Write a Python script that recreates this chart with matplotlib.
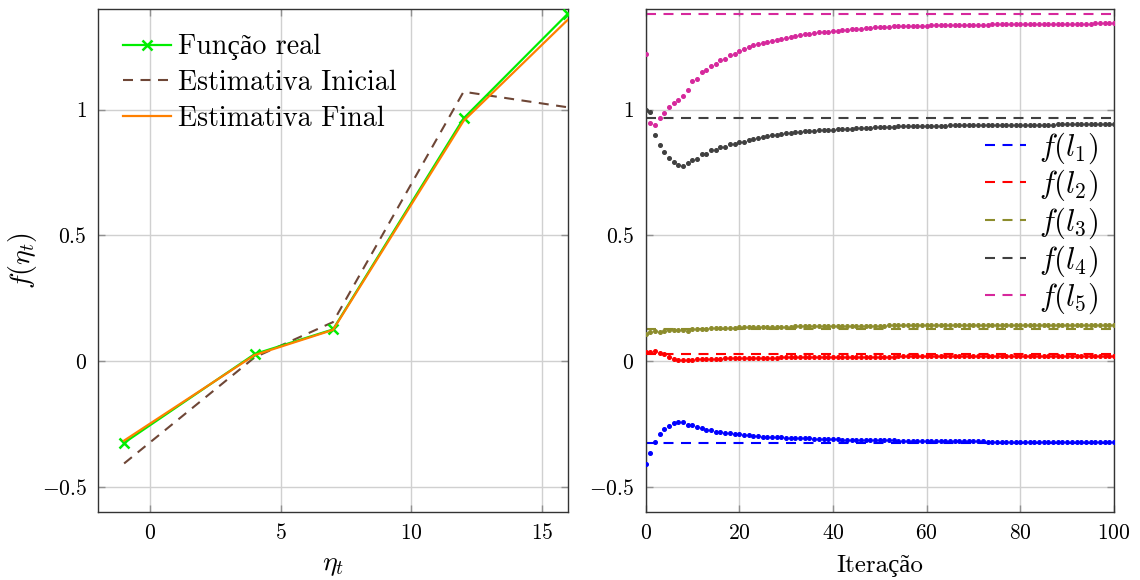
import matplotlib
matplotlib.use("Agg")
import matplotlib.pyplot as plt
from matplotlib.ticker import FixedLocator, FuncFormatter

plt.rcParams['mathtext.fontset'] = 'cm'
plt.rcParams['font.family'] = ['cmr10', 'Liberation Serif']
plt.rcParams['axes.unicode_minus'] = False

# ---------------- data: left panel ----------------
eta = [-1, 4, 7, 12, 16]
f_real = [-0.325, 0.028, 0.126, 0.965, 1.382]
f_inicial = [-0.407, 0.015, 0.155, 1.071, 1.009]
f_final = [-0.316, 0.024, 0.124, 0.955, 1.358]

# ---------------- data: right panel ----------------
iters = list(range(101))
ref_vals = [-0.325, 0.028, 0.127, 0.965, 1.382]
labels_r = [r'$f(l_1)$', r'$f(l_2)$', r'$f(l_3)$', r'$f(l_4)$', r'$f(l_5)$']

l1 = [-0.408, -0.367, -0.321, -0.288, -0.268, -0.257, -0.248, -0.243, -0.243, -0.254,
      -0.256, -0.264, -0.265, -0.272, -0.274, -0.280, -0.281, -0.285, -0.286, -0.289,
      -0.290, -0.293, -0.294, -0.297, -0.297, -0.300, -0.300, -0.301, -0.302, -0.303,
      -0.305, -0.305, -0.306, -0.306, -0.307, -0.307, -0.308, -0.308, -0.309, -0.310,
      -0.311, -0.311, -0.312, -0.312, -0.312, -0.313, -0.313, -0.313, -0.314, -0.314,
      -0.314, -0.315, -0.315, -0.315, -0.316, -0.316, -0.316, -0.316, -0.317, -0.317,
      -0.317, -0.317, -0.318, -0.318, -0.318, -0.318, -0.318, -0.319, -0.319, -0.319,
      -0.319, -0.319, -0.319, -0.320, -0.320, -0.320, -0.320, -0.320, -0.320, -0.320,
      -0.320, -0.320, -0.321, -0.321, -0.321, -0.321, -0.321, -0.321, -0.321, -0.321,
      -0.321, -0.321, -0.321, -0.321, -0.321, -0.321, -0.321, -0.321, -0.321, -0.321,
      -0.321]
l2 = [0.036, 0.037, 0.042, 0.033, 0.027, 0.017, 0.009, 0.005, 0.003, 0.004,
      0.003, 0.007, 0.008, 0.008, 0.009, 0.010, 0.010, 0.011, 0.011, 0.011,
      0.012, 0.012, 0.012, 0.013, 0.013, 0.013, 0.014, 0.014, 0.014, 0.015,
      0.015, 0.015, 0.015, 0.016, 0.016, 0.016, 0.016, 0.016, 0.017, 0.017,
      0.017, 0.017, 0.017, 0.017, 0.018, 0.018, 0.018, 0.018, 0.018, 0.018,
      0.018, 0.018, 0.018, 0.018, 0.019, 0.019, 0.019, 0.019, 0.019, 0.019,
      0.019, 0.019, 0.019, 0.019, 0.019, 0.019, 0.019, 0.019, 0.019, 0.019,
      0.019, 0.019, 0.019, 0.019, 0.019, 0.019, 0.019, 0.019, 0.019, 0.019,
      0.019, 0.019, 0.019, 0.019, 0.019, 0.019, 0.019, 0.019, 0.019, 0.019,
      0.019, 0.019, 0.019, 0.019, 0.019, 0.019, 0.019, 0.019, 0.019, 0.019,
      0.019]
l3 = [0.106, 0.117, 0.118, 0.117, 0.121, 0.123, 0.125, 0.125, 0.125, 0.121,
      0.128, 0.128, 0.129, 0.129, 0.130, 0.130, 0.131, 0.131, 0.132, 0.133,
      0.134, 0.134, 0.134, 0.135, 0.135, 0.135, 0.136, 0.136, 0.136, 0.137,
      0.137, 0.137, 0.138, 0.138, 0.138, 0.138, 0.139, 0.139, 0.139, 0.139,
      0.140, 0.140, 0.140, 0.140, 0.140, 0.141, 0.141, 0.141, 0.141, 0.141,
      0.141, 0.141, 0.142, 0.142, 0.142, 0.142, 0.142, 0.142, 0.142, 0.142,
      0.142, 0.143, 0.143, 0.143, 0.143, 0.143, 0.143, 0.143, 0.143, 0.143,
      0.143, 0.143, 0.143, 0.143, 0.143, 0.143, 0.143, 0.143, 0.143, 0.143,
      0.143, 0.143, 0.143, 0.143, 0.143, 0.143, 0.143, 0.143, 0.143, 0.143,
      0.143, 0.143, 0.143, 0.143, 0.143, 0.143, 0.143, 0.143, 0.143, 0.143,
      0.143]
l4 = [1.000, 0.990, 0.899, 0.858, 0.832, 0.807, 0.790, 0.779, 0.774, 0.786,
      0.799, 0.804, 0.823, 0.823, 0.838, 0.838, 0.851, 0.851, 0.862, 0.863,
      0.871, 0.872, 0.880, 0.883, 0.888, 0.892, 0.895, 0.899, 0.900, 0.903,
      0.905, 0.908, 0.911, 0.912, 0.913, 0.915, 0.916, 0.917, 0.918, 0.920,
      0.920, 0.921, 0.922, 0.923, 0.924, 0.925, 0.926, 0.927, 0.928, 0.929,
      0.930, 0.931, 0.932, 0.932, 0.933, 0.933, 0.934, 0.934, 0.934, 0.935,
      0.935, 0.935, 0.936, 0.936, 0.936, 0.937, 0.937, 0.937, 0.937, 0.938,
      0.938, 0.938, 0.938, 0.938, 0.939, 0.939, 0.939, 0.939, 0.939, 0.939,
      0.940, 0.940, 0.940, 0.940, 0.940, 0.940, 0.940, 0.940, 0.941, 0.941,
      0.941, 0.941, 0.941, 0.941, 0.941, 0.941, 0.941, 0.941, 0.941, 0.941,
      0.941]
l5 = [1.223, 0.948, 0.937, 0.965, 0.986, 1.009, 1.025, 1.039, 1.054, 1.076,
      1.112, 1.120, 1.149, 1.157, 1.172, 1.180, 1.196, 1.202, 1.217, 1.223,
      1.234, 1.239, 1.249, 1.255, 1.260, 1.266, 1.268, 1.274, 1.278, 1.282,
      1.286, 1.288, 1.292, 1.295, 1.299, 1.301, 1.304, 1.307, 1.308, 1.309,
      1.312, 1.313, 1.315, 1.316, 1.319, 1.320, 1.321, 1.323, 1.324, 1.327,
      1.328, 1.329, 1.330, 1.331, 1.331, 1.332, 1.332, 1.333, 1.333, 1.334,
      1.334, 1.335, 1.335, 1.335, 1.336, 1.336, 1.336, 1.337, 1.337, 1.337,
      1.338, 1.338, 1.338, 1.338, 1.339, 1.339, 1.339, 1.339, 1.340, 1.340,
      1.340, 1.340, 1.340, 1.341, 1.341, 1.341, 1.341, 1.341, 1.341, 1.342,
      1.342, 1.342, 1.342, 1.342, 1.342, 1.342, 1.343, 1.343, 1.343, 1.343,
      1.343]
series_r = [l1, l2, l3, l4, l5]
colors_r = ['#0000ff', '#ff0000', '#8c8c2c', '#404040', '#d6289c']

# ---------------- figure ----------------
W, H = 1140, 580
fig = plt.figure(figsize=(W / 100, H / 100), dpi=100)
ax1 = fig.add_axes([98 / W, 68 / H, 470 / W, 503 / H])
ax2 = fig.add_axes([645.5 / W, 68 / H, 468.5 / W, 503 / H])

TICK_FS = 15.5
DASH = (4.8, 3.6)


def fmt(v, pos):
    return r'$' + ('%g' % v) + r'$'


for ax in (ax1, ax2):
    ax.set_ylim(-0.6, 1.4)
    ax.yaxis.set_major_locator(FixedLocator([-0.5, 0, 0.5, 1]))
    ax.yaxis.set_major_formatter(FuncFormatter(fmt))
    ax.xaxis.set_major_formatter(FuncFormatter(fmt))
    ax.grid(True, color='#d0d0d0', linewidth=1.0)
    ax.set_axisbelow(True)
    ax.tick_params(direction='in', length=5, width=1.0, color='#909090',
                   top=True, right=True, labelsize=TICK_FS, pad=8)
    for sp in ax.spines.values():
        sp.set_color('#333333')
        sp.set_linewidth(1.0)

# left panel
ax1.set_xlim(-2, 16)
ax1.xaxis.set_major_locator(FixedLocator([0, 5, 10, 15]))
ax1.plot(eta, f_real, color='#00ee00', lw=1.6, marker='x', ms=7, mew=1.8,
         label='Função real', zorder=3)
ax1.plot(eta, f_inicial, color='#6e4636', lw=1.5, dashes=DASH,
         label='Estimativa Inicial', zorder=2)
ax1.plot(eta, f_final, color='#ff8000', lw=1.6, label='Estimativa Final', zorder=4)
ax1.set_xlabel(r'$\eta_t$', fontsize=20, labelpad=6)
ax1.set_ylabel(r'$f(\eta_t)$', fontsize=20, labelpad=2)
ax1.legend(loc='upper left', bbox_to_anchor=(0.053, 0.95), frameon=False,
           fontsize=20.2, handlelength=1.73, handletextpad=0.25,
           labelspacing=0.33, borderaxespad=0, borderpad=0)

# right panel
ax2.set_xlim(0, 100)
ax2.xaxis.set_major_locator(FixedLocator([0, 20, 40, 60, 80, 100]))
for ys, c, lab, rv in zip(series_r, colors_r, labels_r, ref_vals):
    ax2.plot([iters[0], iters[-1]], [rv, rv], color=c, lw=1.5, dashes=DASH,
             label=lab, zorder=2)
for ys, c in zip(series_r, colors_r):
    ax2.plot(iters, ys, linestyle='none', marker='o', ms=2.6, color=c, zorder=3)
ax2.set_xlabel('Iteração', fontsize=18, labelpad=9)
ax2.legend(loc='upper right', bbox_to_anchor=(0.966, 0.759), frameon=False,
           fontsize=22, handlelength=1.35, handletextpad=0.42,
           labelspacing=0.07, borderaxespad=0, borderpad=0)

fig.savefig('out.png', dpi=100)
